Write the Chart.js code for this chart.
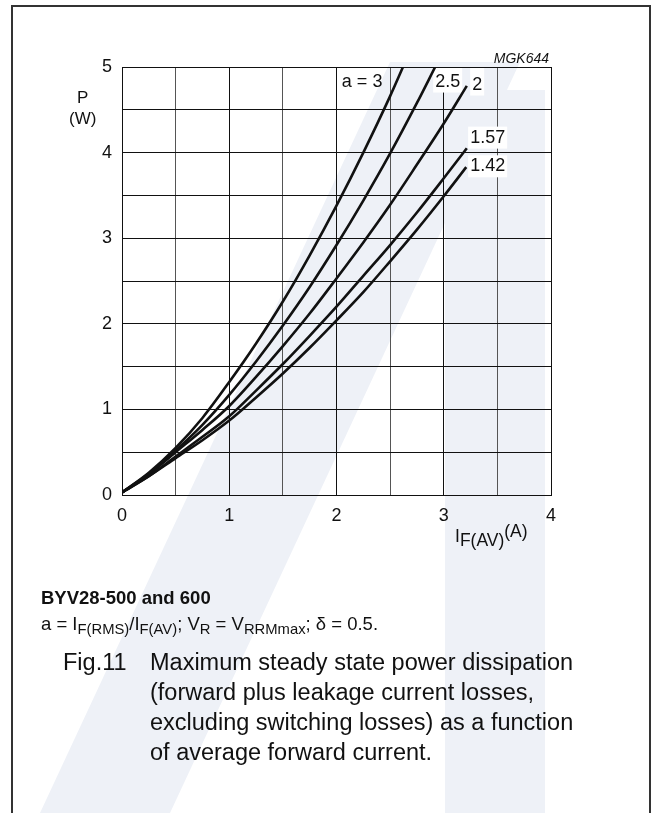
<!DOCTYPE html>
<html><head><meta charset="utf-8">
<script src="https://cdn.jsdelivr.net/npm/chart.js@4.4.1/dist/chart.umd.min.js"></script>
<style>
html,body{margin:0;padding:0;background:#fff;}
#wrap{position:relative;width:655px;height:813px;overflow:hidden;font-family:"Liberation Sans",Arial,sans-serif;color:#111;}
#wm{position:absolute;left:0;top:0;}
#frame{position:absolute;left:11px;top:5px;width:640px;height:830px;border:2px solid #333;border-bottom:none;box-sizing:border-box;}
canvas{position:absolute;left:0;top:0;}
.t{position:absolute;white-space:nowrap;line-height:1;}
.s{font-size:80%;position:relative;top:0.3em;}
.ax span{position:relative;}
</style></head><body>
<div id="wrap">
<svg id="wm" width="655" height="813">
  <polygon points="40,813 170,813 520,62 390,62" fill="#eef1f7"/>
  <rect x="445" y="90" width="100" height="723" fill="#eef1f7"/>
</svg>
<div id="frame"></div>
<canvas id="c" width="655" height="813"></canvas>
<div class="t" style="right:106px;top:51px;font-size:14px;font-style:italic;">MGK644</div>
<div class="t" style="left:77px;top:89px;font-size:17px;">P</div>
<div class="t" style="left:69px;top:110px;font-size:17px;">(W)</div>
<div class="t ax" style="left:455px;top:526px;font-size:17.5px;line-height:20px;">I<span style="top:4px;">F(AV)</span><span style="top:-5px;">(A)</span></div>
<div class="t" style="left:41px;top:589px;font-size:18.5px;font-weight:bold;">BYV28-500 and 600</div>
<div class="t" style="left:41px;top:615px;font-size:18.5px;">a = I<span class="s">F(RMS)</span>/I<span class="s">F(AV)</span>; V<span class="s">R</span> = V<span class="s">RRMmax</span>; &delta; = 0.5.</div>
<div class="t" style="left:63px;top:647px;font-size:23.5px;line-height:30px;">Fig.11</div>
<div class="t" style="left:150px;top:647px;font-size:23.5px;line-height:30px;">Maximum steady state power dissipation<br>(forward plus leakage current losses,<br>excluding switching losses) as a function<br>of average forward current.</div>
</div>
<script>
// ---- data ----
const xTickLabels = ['0','1','2','3','4'];
const yTickLabels = ['0','1','2','3','4','5'];
const seriesNames = ['a = 3','2.5','2','1.57','1.42'];

const a3_I   = [0, 0.25, 0.5, 0.75, 1.0, 1.25, 1.5, 1.75, 2.0, 2.25, 2.5, 2.62];
const a3_P   = [0.03, 0.26, 0.55, 0.9, 1.32, 1.77, 2.26, 2.8, 3.38, 4.0, 4.66, 5.0];

const a25_I  = [0, 0.25, 0.5, 0.75, 1.0, 1.25, 1.5, 1.75, 2.0, 2.25, 2.5, 2.75, 2.92];
const a25_P  = [0.03, 0.25, 0.52, 0.82, 1.17, 1.56, 1.98, 2.43, 2.92, 3.44, 3.99, 4.58, 5.0];

const a2_I   = [0, 0.25, 0.5, 0.75, 1.0, 1.25, 1.5, 1.75, 2.0, 2.25, 2.5, 2.75, 3.0, 3.215];
const a2_P   = [0.03, 0.24, 0.5, 0.76, 1.04, 1.38, 1.74, 2.12, 2.53, 2.95, 3.39, 3.86, 4.34, 4.78];

const a157_I = [0, 0.25, 0.5, 0.75, 1.0, 1.25, 1.5, 1.75, 2.0, 2.25, 2.5, 2.75, 3.0, 3.215];
const a157_P = [0.03, 0.22, 0.45, 0.68, 0.92, 1.22, 1.53, 1.86, 2.2, 2.56, 2.92, 3.3, 3.7, 4.05];

const a142_I = [0, 0.25, 0.5, 0.75, 1.0, 1.25, 1.5, 1.75, 2.0, 2.25, 2.5, 2.75, 3.0, 3.21];
const a142_P = [0.03, 0.22, 0.43, 0.64, 0.87, 1.14, 1.42, 1.72, 2.04, 2.37, 2.73, 3.1, 3.49, 3.83];

// label anchors (data coordinates)
const labelI = [2.05, 2.92, 3.265, 3.246, 3.246];
const labelP = [4.83, 4.83, 4.795, 4.175, 3.84];

// ---- build chart ----
const FONT = '"Liberation Sans", Arial, sans-serif';
const pts = (xs, ys) => xs.map((x, i) => ({x: x, y: ys[i]}));
const seriesI = [a3_I, a25_I, a2_I, a157_I, a142_I];
const seriesP = [a3_P, a25_P, a2_P, a157_P, a142_P];

const datasets = seriesNames.map((n, k) => ({
  label: n,
  data: pts(seriesI[k], seriesP[k]),
  showLine: true,
  borderColor: '#111',
  borderWidth: 2.6,
  pointRadius: 0,
  cubicInterpolationMode: 'monotone',
  fill: false
}));

const labelPlugin = {
  id: 'curveLabels',
  beforeDatasetsDraw(chart) {
    const {ctx, scales: {x, y}} = chart;
    ctx.save();
    ctx.font = '18px ' + FONT;
    ctx.fillStyle = '#fff';
    seriesNames.forEach((t, k) => {
      if (k === 0) return;
      const px = x.getPixelForValue(labelI[k]);
      const py = y.getPixelForValue(labelP[k]);
      const w = ctx.measureText(t).width;
      const top = (k === 1 || k === 2) ? chart.chartArea.top + 1 : py - 11;
      ctx.fillRect(px - 2, top, w + 4, py + 11 - top);
    });
    ctx.restore();
  },
  afterDatasetsDraw(chart) {
    const {ctx, scales: {x, y}} = chart;
    ctx.save();
    ctx.font = '18px ' + FONT;
    ctx.fillStyle = '#111';
    ctx.textBaseline = 'middle';
    ctx.textAlign = 'left';
    seriesNames.forEach((t, k) => {
      ctx.fillText(t, x.getPixelForValue(labelI[k]), y.getPixelForValue(labelP[k]));
    });
    ctx.restore();
  }
};

new Chart(document.getElementById('c'), {
  type: 'scatter',
  data: {datasets},
  options: {
    responsive: false,
    animation: false,
    events: [],
    layout: {padding: {left: 0, top: 67, right: 104, bottom: 258}},
    plugins: {legend: {display: false}, tooltip: {enabled: false}},
    scales: {
      x: {
        type: 'linear', min: 0, max: 4,
        afterFit(s) { s.height = 60; },
        ticks: {
          stepSize: 0.5, autoSkip: false, maxRotation: 0, padding: 10,
          color: '#111', font: {family: FONT, size: 18},
          callback: (v) => Number.isInteger(v) ? xTickLabels[v] : ''
        },
        grid: {
          drawTicks: false, lineWidth: 1,
          color: (c) => (c.tick && Number.isInteger(c.tick.value)) ? '#111' : '#555'
        },
        border: {display: true, color: '#111', width: 1}
      },
      y: {
        type: 'linear', min: 0, max: 5,
        afterFit(s) { s.width = 122; },
        ticks: {
          stepSize: 0.5, autoSkip: false, padding: 10,
          color: '#111', font: {family: FONT, size: 18},
          callback: (v) => Number.isInteger(v) ? yTickLabels[v] : ''
        },
        grid: {drawTicks: false, lineWidth: 1, color: '#111'},
        border: {display: true, color: '#111', width: 1}
      }
    }
  },
  plugins: [labelPlugin]
});
</script>
</body></html>
